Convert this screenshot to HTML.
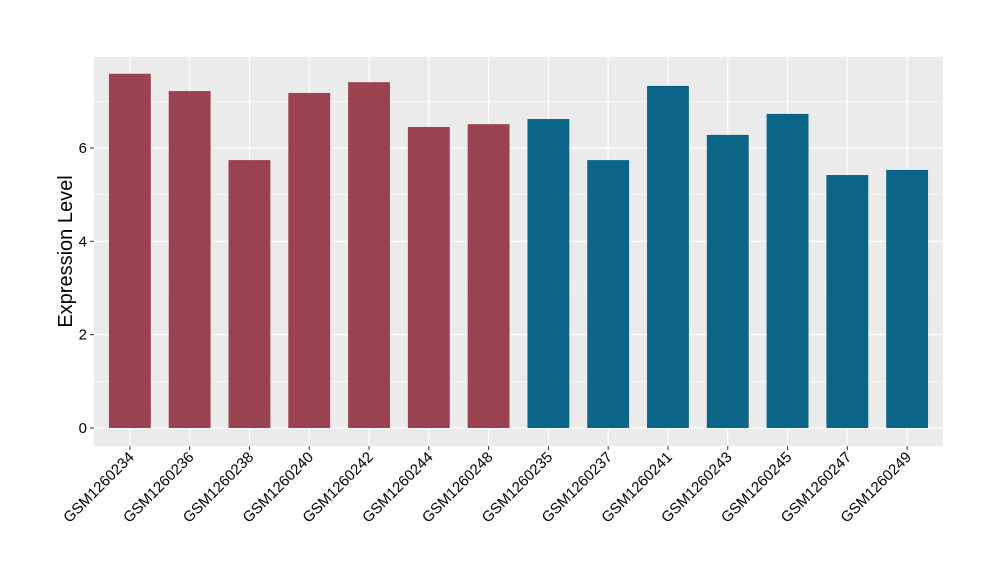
<!DOCTYPE html>
<html><head><meta charset="utf-8"><style>
body{margin:0;background:#fff;}
svg{display:block;font-family:"Liberation Sans",Arial,sans-serif;}
</style></head><body>
<svg id="chart" width="1000" height="580"></svg>
<script>
const categories=["GSM1260234","GSM1260236","GSM1260238","GSM1260240","GSM1260242","GSM1260244","GSM1260248","GSM1260235","GSM1260237","GSM1260241","GSM1260243","GSM1260245","GSM1260247","GSM1260249"];
const values=[7.59,7.22,5.74,7.18,7.41,6.45,6.51,6.62,5.74,7.33,6.28,6.73,5.42,5.53];
const groups=[0,0,0,0,0,0,0,1,1,1,1,1,1,1];
const yTicks=[0,2,4,6];
const colors=["#9b4251","#0b6587"];
const NS="http://www.w3.org/2000/svg";
const svg=document.getElementById('chart');
const L=94,R=943,T=57,B=446;
const y0=428,pxPerUnit=46.67;
function yScale(v){return y0-v*pxPerUnit;}
const step=(R-L)/(categories.length-1+1.2);
function xScale(i){return L+(i+0.6)*step;}
function mk(tag,attrs){const e=document.createElementNS(NS,tag);for(const k in attrs)e.setAttribute(k,attrs[k]);svg.appendChild(e);return e;}
const panel=mk('rect',{x:L,y:T,width:R-L,height:B-T,fill:'#ebebeb'});


for(let i=0;i<yTicks.length;i++){const v=yTicks[i]+1;const y=yScale(v);if(y>T){const g=mk('line',{x1:L,x2:R,y1:y,y2:y,stroke:'#fff','stroke-width':0.6});

}}
yTicks.forEach(v=>{const y=yScale(v);const g=mk('line',{x1:L,x2:R,y1:y,y2:y,stroke:'#fff','stroke-width':1.2});


const t=mk('line',{x1:L-4,x2:L,y1:y,y2:y,stroke:'#333','stroke-width':1});


const tx=mk('text',{x:L-7,y:y+5,'text-anchor':'end','font-size':15,fill:'#000'});tx.textContent=v;

});
categories.forEach((c,i)=>{const x=xScale(i);
const g=mk('line',{x1:x,x2:x,y1:T,y2:B,stroke:'#fff','stroke-width':1.2});

});
categories.forEach((c,i)=>{const x=xScale(i);const w=step*0.7;
const b=mk('rect',{x:x-w/2,y:yScale(values[i]),width:w,height:yScale(0)-yScale(values[i]),fill:colors[groups[i]]});


const t=mk('line',{x1:x,x2:x,y1:B,y2:B+4,stroke:'#333','stroke-width':1});


const tx=mk('text',{x:0,y:0,'text-anchor':'end','font-size':15,fill:'#000',transform:`translate(${x+5},${B+12}) rotate(-45)`});tx.textContent=c;

});
const yt=mk('text',{x:0,y:0,'text-anchor':'middle','font-size':20,fill:'#000',transform:`translate(72,${(T+B)/2}) rotate(-90)`});yt.textContent='Expression Level';


</script>
</body></html>
